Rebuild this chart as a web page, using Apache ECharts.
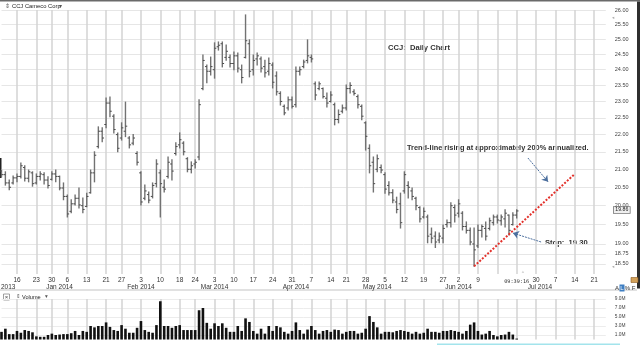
<!DOCTYPE html>
<html>
<head>
<meta charset="utf-8">
<title>CCJ Daily Chart</title>
<script src="https://cdn.jsdelivr.net/npm/echarts@6.0.0/dist/echarts.min.js"></script>
<style>
html,body{margin:0;padding:0;background:#fff;}
#chart{width:640px;height:345px;}
</style>
</head>
<body>
<div id="chart"></div>
<script>
// ---------------- data ----------------
const firstDay = '2013-12-10';
const lastDay = '2014-07-24';
const marketHolidays = ['2013-12-25', '2014-01-01', '2014-01-20', '2014-02-17', '2014-04-18', '2014-05-26'];

const opens = [
  20.95, 20.85, 20.62, 20.62, 20.76, 20.80, 21.05, 20.75, 20.90, 20.62,
  20.80, 20.85, 20.70, 20.72, 20.87, 20.80, 20.48, 20.25, 19.85, 20.05,
  20.20, 20.00, 19.98, 20.35, 20.90, 21.65, 22.10, 22.30, 22.95, 22.55,
  22.00, 21.90, 22.10, 21.90, 21.75, 21.45, 20.90, 20.20, 20.30, 20.25,
  20.60, 20.90, 20.50, 20.80, 21.15, 21.45, 21.70, 21.75, 21.30, 21.00,
  21.15, 21.35, 23.40, 24.10, 23.95, 24.00, 24.75, 24.85, 24.40, 24.40,
  24.20, 24.45, 24.00, 24.40, 24.85, 24.00, 24.35, 24.35, 24.10, 23.95,
  24.15, 23.80, 23.25, 22.85, 22.80, 23.05, 22.90, 23.95, 24.10, 24.30,
  24.40, 23.55, 23.40, 23.40, 23.10, 23.00, 22.90, 22.45, 22.70, 22.80,
  23.40, 23.30, 23.15, 22.85, 22.35, 21.60, 21.20, 21.00, 21.05, 20.85,
  20.55, 20.35, 20.10, 20.05, 20.40, 20.55, 20.40, 20.20, 19.95, 19.70,
  19.70, 19.25, 19.20, 19.10, 19.15, 19.50, 19.55, 19.95, 19.80, 19.80,
  19.45, 19.35, 19.00, 18.95, 19.35, 19.40, 19.40, 19.55, 19.70, 19.60,
  19.65, 19.75, 19.50, 19.75
];
const highs = [
  20.98, 20.93, 20.70, 20.81, 20.87, 21.18, 21.10, 20.98, 20.93, 20.87,
  20.93, 20.90, 20.79, 20.93, 20.98, 20.81, 20.62, 20.29, 20.16, 20.29,
  20.48, 20.21, 20.34, 20.98, 21.50, 22.23, 22.20, 23.11, 23.14, 22.59,
  22.05, 22.35, 22.98, 21.94, 22.00, 21.50, 20.93, 20.56, 20.37, 20.62,
  21.27, 20.98, 20.70, 21.35, 21.27, 21.76, 22.05, 21.79, 21.33, 21.21,
  21.27, 23.05, 24.48, 24.15, 24.41, 24.88, 24.91, 24.91, 24.81, 24.48,
  24.58, 24.54, 24.15, 25.83, 24.98, 24.48, 24.54, 24.41, 24.31, 24.38,
  24.22, 23.93, 23.30, 22.89, 23.14, 23.14, 24.09, 24.09, 24.31, 24.98,
  24.48, 23.61, 23.61, 23.42, 23.26, 23.30, 22.95, 22.74, 22.89, 23.51,
  23.58, 23.36, 23.20, 22.89, 22.38, 21.70, 21.35, 21.41, 21.12, 20.90,
  20.65, 20.43, 20.23, 20.34, 20.93, 20.65, 20.48, 20.23, 19.97, 19.94,
  19.75, 19.41, 19.31, 19.28, 19.49, 19.62, 20.08, 20.02, 20.16, 19.84,
  19.57, 19.41, 19.41, 19.49, 19.49, 19.57, 19.67, 19.75, 19.75, 19.75,
  19.89, 19.75, 19.81, 19.89
];
const lows = [
  20.79, 20.56, 20.43, 20.59, 20.65, 20.76, 20.67, 20.65, 20.53, 20.59,
  20.70, 20.59, 20.48, 20.70, 20.65, 20.43, 20.16, 19.70, 19.81, 20.02,
  19.94, 19.81, 19.97, 20.34, 20.65, 21.61, 21.79, 22.20, 22.53, 22.05,
  21.50, 21.84, 21.94, 21.61, 21.70, 21.12, 20.02, 20.16, 20.08, 20.21,
  20.51, 19.70, 20.37, 20.76, 20.70, 21.41, 21.61, 21.41, 20.93, 20.90,
  21.04, 21.27, 23.36, 23.58, 23.83, 23.73, 24.64, 24.09, 24.31, 24.09,
  24.00, 23.93, 23.58, 24.38, 23.77, 23.83, 24.15, 23.93, 23.77, 23.83,
  23.42, 23.20, 22.89, 22.59, 22.74, 22.80, 22.83, 23.83, 24.06, 24.22,
  24.25, 23.05, 23.36, 23.11, 22.83, 22.98, 22.29, 22.35, 22.65, 22.74,
  23.26, 23.20, 22.80, 22.44, 21.55, 20.90, 20.37, 20.93, 20.90, 20.34,
  20.29, 20.08, 19.81, 19.41, 20.34, 20.21, 20.16, 19.89, 19.57, 19.67,
  19.03, 19.03, 18.91, 19.03, 19.03, 19.44, 19.44, 19.57, 19.70, 19.36,
  19.28, 18.98, 18.44, 18.91, 19.18, 19.10, 19.36, 19.49, 19.54, 19.49,
  19.44, 19.23, 19.49, 19.67
];
const closes = [
  20.85, 20.62, 20.50, 20.76, 20.80, 21.10, 20.75, 20.93, 20.60, 20.80,
  20.87, 20.70, 20.55, 20.87, 20.80, 20.48, 20.25, 19.78, 20.05, 20.20,
  20.02, 19.90, 20.25, 20.90, 21.40, 22.10, 21.90, 22.95, 22.70, 22.15,
  21.60, 22.20, 22.25, 21.70, 21.90, 21.20, 20.10, 20.40, 20.15, 20.55,
  21.15, 20.60, 20.45, 21.20, 20.95, 21.65, 21.85, 21.50, 21.00, 21.10,
  21.20, 22.90, 24.30, 23.95, 24.10, 24.70, 24.80, 24.20, 24.60, 24.20,
  24.45, 24.05, 23.75, 24.95, 23.95, 24.30, 24.45, 24.05, 23.90, 24.20,
  23.60, 23.30, 23.00, 22.65, 23.05, 22.85, 23.95, 24.00, 24.25, 24.45,
  24.35, 23.20, 23.55, 23.15, 22.95, 23.20, 22.45, 22.60, 22.80, 23.40,
  23.50, 23.25, 22.90, 22.55, 21.95, 21.10, 20.60, 21.30, 20.98, 20.45,
  20.35, 20.15, 19.90, 19.55, 20.85, 20.50, 20.25, 20.00, 19.65, 19.85,
  19.20, 19.15, 19.05, 19.20, 19.40, 19.55, 20.00, 19.75, 20.05, 19.45,
  19.35, 19.05, 18.85, 19.35, 19.45, 19.20, 19.60, 19.70, 19.62, 19.70,
  19.80, 19.35, 19.75, 19.86
];
// volume in millions of shares
const volumesM = [
  1.7, 2.4, 1.2, 1.2, 1.9, 1.5, 2.1, 1.9, 1.6, 0.7,
  0.6, 0.6, 1.0, 1.3, 1.0, 1.1, 1.2, 1.2, 1.4, 1.9,
  1.0, 1.9, 1.7, 3.0, 2.7, 3.0, 3.0, 3.8, 2.8, 2.1,
  1.9, 3.2, 2.4, 1.5, 1.5, 2.6, 4.1, 2.1, 1.7, 1.5,
  3.2, 8.5, 3.0, 3.0, 2.6, 3.0, 3.2, 2.1, 2.1, 2.1,
  2.1, 6.5, 7.0, 3.7, 2.4, 3.6, 3.0, 3.6, 2.6, 1.7,
  1.7, 3.0, 1.9, 4.7, 3.9, 1.9, 1.3, 2.4, 1.3, 3.0,
  1.9, 3.0, 2.7, 1.7, 1.3, 1.9, 3.8, 2.1, 1.3, 2.2,
  3.0, 2.1, 1.3, 1.9, 2.1, 1.7, 2.2, 2.1, 1.3, 1.7,
  1.9, 1.9, 1.3, 1.5, 2.4, 5.2, 3.9, 2.7, 1.3, 1.7,
  1.7, 1.6, 1.9, 2.1, 1.9, 1.7, 1.3, 1.7, 1.3, 1.5,
  2.4, 1.7, 1.7, 1.5, 1.9, 1.9, 2.1, 1.9, 1.7, 1.3,
  1.9, 3.3, 3.8, 1.9, 1.1, 1.3, 1.9, 1.0, 0.7, 1.0,
  1.1, 1.7, 1.1, 0.2
];

const priceTicks = [26.00, 25.50, 25.00, 24.50, 24.00, 23.50, 23.00, 22.50, 22.00, 21.50, 21.00, 20.50, 20.00, 19.50, 19.00, 18.75, 18.50];
const priceAxisRange = [18.25, 26.00];
const volumeTicksM = [1, 3, 5, 7, 9];
const volumeAxisRangeM = [0, 9];

const trendDays = ['2014-06-06', '2014-07-14'];
const trendPrices = [18.44, 20.87];
// annotation arrows: [trading-day position, price]
const arrowToTrend = [[135.9, 21.32], [141.1, 20.65]];
const arrowToStop = [[139.3, 19.05], [132.0, 19.28]];
const timeStampLabel = '09:39:16';
const hiddenDayLabels = ['2014-06-16'];
const monthNames = ['Jan','Feb','Mar','Apr','May','Jun','Jul','Aug','Sep','Oct','Nov','Dec'];

// ---------------- derived ----------------
function buildTradingDays(start, end, closed) {
  const out = [];
  const d = new Date(start + 'T00:00:00Z');
  const e = new Date(end + 'T00:00:00Z');
  while (d <= e) {
    const wd = d.getUTCDay();
    const s = d.toISOString().slice(0, 10);
    if (wd !== 0 && wd !== 6 && closed.indexOf(s) < 0) out.push(s);
    d.setUTCDate(d.getUTCDate() + 1);
  }
  return out;
}
const days = buildTradingDays(firstDay, lastDay, marketHolidays);
function weekKey(s) {
  const d = new Date(s + 'T00:00:00Z');
  d.setUTCDate(d.getUTCDate() - ((d.getUTCDay() + 6) % 7));
  return d.toISOString().slice(0, 10);
}
const isWeekStart = days.map((s, i) => i > 0 && weekKey(s) !== weekKey(days[i - 1]));
const isMonthStart = days.map((s, i) => i > 0 && s.slice(0, 7) !== days[i - 1].slice(0, 7));
const lastIdx = closes.length - 1;
const L = Math.log;
const FONT = '"Liberation Sans", Arial, sans-serif';
const monthLabel = (v) => monthNames[parseInt(v.slice(5, 7), 10) - 1] + ' ' + v.slice(0, 4);

const ohlcData = closes.map((c, i) => [i, L(opens[i]), L(highs[i]), L(lows[i]), L(c)]);

const chart = echarts.init(document.getElementById('chart'), null, {renderer: 'canvas'});

const gridLeft = 1.5, gridRight = 34.2;

const graphics = [
  {type: 'rect', shape: {x: 0, y: 0, width: 640, height: 1.5}, style: {fill: '#6a6a6a'}, silent: true},
  {type: 'rect', shape: {x: 637, y: 1.5, width: 3, height: 287}, style: {fill: '#2e2e2e'}, silent: true},
  {type: 'rect', shape: {x: 0, y: 158, width: 1.5, height: 20}, style: {fill: '#222'}, silent: true},
  {type: 'rect', shape: {x: 0, y: 289.5, width: 637, height: 1}, style: {fill: '#c4c4c4'}, silent: true},
  {type: 'rect', shape: {x: 437, y: 343.5, width: 183, height: 1.5}, style: {fill: '#a3e4ec'}, silent: true},
  // header of price panel
  {type: 'text', x: 5, y: 6, style: {text: '⇕', fontSize: 6, fontFamily: '"DejaVu Sans"', fill: '#555', verticalAlign: 'middle'}},
  {type: 'text', x: 12, y: 6, style: {text: 'CCJ Cameco Corp', fontSize: 5.8, fontFamily: FONT, fill: '#222', verticalAlign: 'middle'}},
  {type: 'text', x: 59, y: 6, style: {text: '▾', fontSize: 6, fontFamily: '"DejaVu Sans"', fill: '#555', verticalAlign: 'middle'}},
  // header of volume panel
  {type: 'rect', shape: {x: 3.5, y: 294, width: 6, height: 6}, style: {fill: '#fff', stroke: '#888', lineWidth: 0.8}, silent: true},
  {type: 'text', x: 6.5, y: 297.2, style: {text: '×', fontSize: 6, fontFamily: FONT, fill: '#444', align: 'center', verticalAlign: 'middle'}},
  {type: 'text', x: 16, y: 297, style: {text: '⇕', fontSize: 5.5, fontFamily: '"DejaVu Sans"', fill: '#555', verticalAlign: 'middle'}},
  {type: 'text', x: 22, y: 297, style: {text: 'Volume', fontSize: 5.6, fontFamily: FONT, fill: '#222', verticalAlign: 'middle'}},
  {type: 'text', x: 45, y: 297, style: {text: '▾', fontSize: 5.5, fontFamily: '"DejaVu Sans"', fill: '#555', verticalAlign: 'middle'}},
  // scale buttons
  {type: 'text', x: 617, y: 288, style: {text: 'A', fontSize: 6, fontFamily: FONT, fill: '#333', align: 'center', verticalAlign: 'middle'}},
  {type: 'rect', shape: {x: 619.5, y: 284.5, width: 5, height: 7}, style: {fill: '#3f7fc3'}, silent: true},
  {type: 'text', x: 622, y: 288, style: {text: 'L', fontSize: 6, fontFamily: FONT, fill: '#fff', align: 'center', verticalAlign: 'middle'}},
  {type: 'text', x: 627.5, y: 288, style: {text: '%', fontSize: 6, fontFamily: FONT, fill: '#333', align: 'center', verticalAlign: 'middle'}},
  {type: 'text', x: 633.5, y: 288, style: {text: 'F', fontSize: 6, fontFamily: FONT, fill: '#333', align: 'center', verticalAlign: 'middle'}},
  {type: 'rect', shape: {x: 631, y: 277.5, width: 7, height: 5}, style: {fill: '#d4a25a', stroke: '#8a5a20', lineWidth: 0.6}, silent: true},
  // small scroll markers
  {type: 'text', x: 612, y: 18, style: {text: '◂', fontSize: 4.5, fontFamily: '"DejaVu Sans"', fill: '#aaa', verticalAlign: 'middle'}},
  {type: 'text', x: 612, y: 267, style: {text: '◂', fontSize: 4.5, fontFamily: '"DejaVu Sans"', fill: '#aaa', verticalAlign: 'middle'}},
  {type: 'text', x: 523, y: 272, style: {text: '▵', fontSize: 4.5, fontFamily: '"DejaVu Sans"', fill: '#aaa', align: 'center', verticalAlign: 'middle'}},
  // annotations
  {type: 'text', x: 388, y: 48, style: {text: 'CCJ:  Daily Chart', fontSize: 7.6, fontWeight: 'bold', fontFamily: FONT, fill: '#333', verticalAlign: 'middle'}},
  {type: 'text', x: 407, y: 148, style: {text: 'Trend-line rising at approximately 200% annualized.', fontSize: 7.4, fontWeight: 'bold', fontFamily: FONT, fill: '#333', verticalAlign: 'middle'}},
  {type: 'text', x: 545, y: 243, style: {text: 'Stop:  19.30', fontSize: 7.6, fontWeight: 'bold', fontFamily: FONT, fill: '#333', verticalAlign: 'middle'}}
];

const option = {
  animation: false,
  backgroundColor: '#ffffff',
  textStyle: {fontFamily: FONT},
  grid: [
    {left: gridLeft, right: gridRight, top: 10, height: 264, outerBoundsMode: 'none', containLabel: false},
    {left: gridLeft, right: gridRight, top: 299, height: 40.5, outerBoundsMode: 'none', containLabel: false}
  ],
  xAxis: [
    { // day + month labels and weekly grid lines
      type: 'category', gridIndex: 0, data: days, boundaryGap: false,
      axisLine: {show: false}, axisTick: {show: false},
      splitLine: {show: true, interval: (i) => isWeekStart[i], lineStyle: {color: '#d3d3d3', width: 1.5}},
      axisLabel: {
        interval: (i) => isWeekStart[i] || isMonthStart[i] || i === lastIdx,
        formatter: (v, i) => {
          if (i === lastIdx) return '{t|' + timeStampLabel + '}';
          const showDay = isWeekStart[i] && hiddenDayLabels.indexOf(v) < 0;
          const top = showDay ? '{d|' + parseInt(v.slice(8, 10), 10) + '}' : '{d| }';
          return isMonthStart[i] ? top + '\n{m|' + monthLabel(v) + '}' : top;
        },
        margin: 3, fontFamily: FONT, verticalAlign: 'top',
        rich: {
          d: {fontSize: 6.5, lineHeight: 7, color: '#333', fontFamily: FONT},
          m: {fontSize: 6.5, lineHeight: 7, color: '#333', fontFamily: FONT},
          t: {fontSize: 5.2, lineHeight: 7, fontFamily: '"DejaVu Sans Mono", monospace', color: '#333', padding: [2.5, 0, 0, 0]}
        }
      }
    },
    { // continuous trading-day position for annotations
      type: 'value', gridIndex: 0, min: 0, max: days.length - 1, show: false
    },
    { // volume panel
      type: 'category', gridIndex: 1, data: days, boundaryGap: false,
      axisLine: {show: false}, axisTick: {show: false}, axisLabel: {show: false},
      splitLine: {show: true, interval: (i) => isWeekStart[i], lineStyle: {color: '#d3d3d3', width: 1.5}}
    }
  ],
  yAxis: [
    {
      type: 'value', gridIndex: 0, position: 'right',
      min: L(priceAxisRange[0]), max: L(priceAxisRange[1]),
      axisLine: {show: false},
      axisTick: {show: false, customValues: priceTicks.map(L)},
      axisLabel: {
        customValues: priceTicks.map(L),
        formatter: (v) => Math.exp(v).toFixed(2),
        fontSize: 5.5, color: '#444', margin: 9, fontFamily: FONT
      },
      splitLine: {show: true, lineStyle: {color: '#e6e6e6', width: 1}}
    },
    {
      type: 'value', gridIndex: 1, position: 'right',
      min: volumeAxisRangeM[0] * 1e6, max: volumeAxisRangeM[1] * 1e6,
      axisLine: {show: false},
      axisTick: {show: false, customValues: volumeTicksM.map(v => v * 1e6)},
      axisLabel: {
        customValues: volumeTicksM.map(v => v * 1e6),
        formatter: (v) => (v / 1e6).toFixed(1) + 'M',
        fontSize: 4.8, color: '#444', margin: 9, fontFamily: FONT
      },
      splitLine: {show: true, lineStyle: {color: '#ececec', width: 1}}
    }
  ],
  series: [
    {
      name: 'CCJ', type: 'custom', xAxisIndex: 0, yAxisIndex: 0,
      data: ohlcData, encode: {x: 0, y: [1, 2, 3, 4]},
      renderItem: function (params, api) {
        const x = api.value(0);
        const o = api.coord([x, api.value(1)]);
        const h = api.coord([x, api.value(2)]);
        const l = api.coord([x, api.value(3)]);
        const c = api.coord([x, api.value(4)]);
        const tick = {stroke: '#4a4a4a', lineWidth: 1};
        return {
          type: 'group',
          children: [
            {type: 'line', shape: {x1: h[0], y1: h[1] - 0.5, x2: l[0], y2: l[1] + 0.5}, style: {stroke: '#727272', lineWidth: 1.4}},
            {type: 'line', shape: {x1: o[0] - 1.8, y1: o[1], x2: o[0], y2: o[1]}, style: tick},
            {type: 'line', shape: {x1: c[0], y1: c[1], x2: c[0] + 1.8, y2: c[1]}, style: tick}
          ]
        };
      },
      z: 3
    },
    {
      name: 'Last', type: 'line', xAxisIndex: 0, yAxisIndex: 0, data: [],
      markLine: {
        silent: true, symbol: ['none', 'none'],
        lineStyle: {color: 'rgba(0,0,0,0)', width: 0},
        label: {
          show: true, position: 'end', distance: 8,
          formatter: () => closes[lastIdx].toFixed(2),
          fontSize: 5.2, color: '#222', fontFamily: FONT,
          backgroundColor: '#efefef', borderColor: '#777', borderWidth: 0.8, padding: [0.5, 1.5]
        },
        data: [{yAxis: L(closes[lastIdx])}]
      },
      z: 6
    },
    {
      name: 'Trend', type: 'line', xAxisIndex: 0, yAxisIndex: 0,
      data: trendDays.map((d, i) => [d, L(trendPrices[i])]),
      symbol: 'none', silent: true,
      lineStyle: {color: '#e3312b', width: 2, type: [2, 1.6]},
      z: 4
    },
    {
      name: 'Notes', type: 'line', xAxisIndex: 1, yAxisIndex: 0, data: [],
      markLine: {
        silent: true, symbol: ['none', 'arrow'], symbolSize: 6,
        label: {show: false},
        lineStyle: {color: '#4c6f9e', width: 1, type: [2, 1]},
        data: [
          [{coord: [arrowToTrend[0][0], L(arrowToTrend[0][1])]}, {coord: [arrowToTrend[1][0], L(arrowToTrend[1][1])]}],
          [{coord: [arrowToStop[0][0], L(arrowToStop[0][1])]}, {coord: [arrowToStop[1][0], L(arrowToStop[1][1])]}]
        ]
      },
      z: 5
    },
    {
      name: 'Volume', type: 'bar', xAxisIndex: 2, yAxisIndex: 1,
      data: volumesM.map(v => v * 1e6),
      barWidth: 2.6, itemStyle: {color: '#111'}, silent: true
    }
  ],
  graphic: graphics
};
chart.setOption(option);

// month label of the first (partially visible) month, placed through the category scale
const firstMonthX = chart.convertToPixel({xAxisIndex: 0}, days[0]);
chart.setOption({
  graphic: graphics.concat([
    {type: 'text', x: firstMonthX, y: 287.5, style: {text: monthLabel(days[0]), fontSize: 6.5, fontFamily: FONT, fill: '#333', align: 'center', verticalAlign: 'middle'}}
  ])
});
</script>
</body>
</html>
